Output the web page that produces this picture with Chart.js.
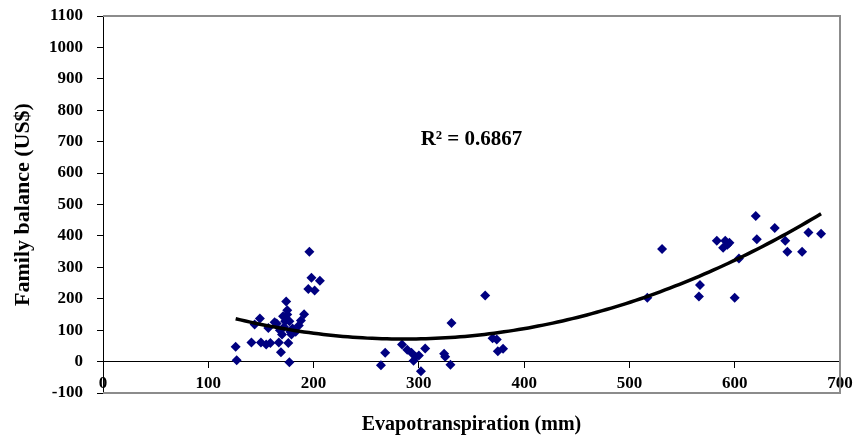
<!DOCTYPE html>
<html>
<head>
<meta charset="utf-8">
<script src="https://cdn.jsdelivr.net/npm/chart.js@4"></script>
<style>
  body { margin: 0; background: #fff; }
</style>
</head>
<body>
<canvas id="myChart" width="855" height="441"></canvas>
<script>
// evapotranspiration (mm) and family balance (US$)
var evapo = [126, 127, 141, 149, 144, 150, 155, 157, 159, 165, 167, 169, 170, 171, 173, 174, 175, 176, 177, 177,
             179, 178, 168, 172, 180, 183, 186, 188, 191, 196, 195, 198, 201, 206, 163, 175,
             264, 268, 284, 289, 293, 295, 300, 302, 306, 324, 325, 330, 331, 363, 370, 374, 375, 380, 297,
             517, 531, 566, 567, 583, 589, 591, 593, 595, 600, 604, 620, 621, 638, 648, 650, 664, 670, 682];
var balance = [47, 4, 61, 137, 118, 61, 54, 107, 59, 121, 61, 30, 86, 144, 128, 191, 163, 59, 128, -2,
               86, 95, 100, 110, 105, 95, 115, 131, 151, 350, 231, 267, 226, 257, 125, 150,
               -12, 28, 54, 38, 28, 3, 19, -31, 42, 25, 15, -10, 123, 210, 74, 70, 33, 41, 15,
               203, 358, 207, 244, 385, 362, 385, 372, 378, 203, 328, 463, 389, 425, 385, 350, 350, 411, 407];
var xTicks = [0, 100, 200, 300, 400, 500, 600, 700];
var yTicks = [-100, 0, 100, 200, 300, 400, 500, 600, 700, 800, 900, 1000, 1100];
var r2Label = 'R² = 0.6867';

var points = evapo.map(function(x, i){ return {x: x, y: balance[i]}; });

// 2nd order polynomial trend (least squares)
function polyFit(xs, ys){
    var s = [0,0,0,0,0], t = [0,0,0];
    for (var i = 0; i < xs.length; i++) {
        var p = 1;
        for (var k = 0; k < 5; k++) { s[k] += p; if (k < 3) t[k] += p * ys[i]; p *= xs[i]; }
    }
    var m = [[s[0], s[1], s[2], t[0]], [s[1], s[2], s[3], t[1]], [s[2], s[3], s[4], t[2]]];
    for (var c = 0; c < 3; c++) {
        for (var r = c + 1; r < 3; r++) {
            var f = m[r][c] / m[c][c];
            for (var q = c; q < 4; q++) m[r][q] -= f * m[c][q];
        }
    }
    var b = [0,0,0];
    for (var r2 = 2; r2 >= 0; r2--) {
        var v = m[r2][3];
        for (var q2 = r2 + 1; q2 < 3; q2++) v -= m[r2][q2] * b[q2];
        b[r2] = v / m[r2][r2];
    }
    return b;
}
var coef = polyFit(evapo, balance);
var xMin = Math.min.apply(null, evapo), xMax = Math.max.apply(null, evapo);
var trend = [];
for (var i = 0; i <= 60; i++) {
    var x = xMin + (xMax - xMin) * i / 60;
    trend.push({x: x, y: coef[0] + coef[1] * x + coef[2] * x * x});
}

var fontFam = '"Liberation Serif", "Times New Roman", serif';

function noPad(s){ s.paddingTop = 0; s.paddingBottom = 0; s.paddingLeft = 0; s.paddingRight = 0; }

var framePlugin = {
    id: 'frame',
    beforeDatasetsDraw: function(chart){
        var a = chart.chartArea, ctx = chart.ctx;
        ctx.save();
        ctx.strokeStyle = '#8c8c8c';
        ctx.lineWidth = 2;
        ctx.beginPath();
        ctx.moveTo(a.left, a.top);
        ctx.lineTo(a.right, a.top);
        ctx.lineTo(a.right, a.bottom);
        ctx.lineTo(a.left, a.bottom);
        ctx.stroke();
        ctx.restore();
    },
    afterDatasetsDraw: function(chart){
        var ctx = chart.ctx;
        ctx.save();
        ctx.font = 'bold 21px ' + fontFam;
        ctx.fillStyle = '#000';
        ctx.textAlign = 'center';
        ctx.textBaseline = 'middle';
        ctx.fillText(r2Label, chart.scales.x.getPixelForValue(350), chart.scales.y.getPixelForValue(707));
        ctx.restore();
    }
};

var ctx = document.getElementById('myChart').getContext('2d');
var myChart = new Chart(ctx, {
    type: 'scatter',
    data: {
        datasets: [{
            label: 'Family balance',
            data: points,
            pointStyle: 'rectRot',
            pointRadius: 5,
            pointBorderWidth: 0,
            backgroundColor: '#000080',
            borderColor: '#000080',
            order: 2
        }, {
            label: 'Trend',
            type: 'line',
            data: trend,
            borderColor: '#000',
            borderWidth: 3.5,
            pointRadius: 0,
            tension: 0.4,
            fill: false,
            order: 1
        }]
    },
    options: {
        responsive: false,
        animation: false,
        layout: { padding: { top: 16, right: 15, left: 0, bottom: 0 } },
        plugins: { legend: { display: false }, tooltip: { enabled: false } },
        scales: {
            x: {
                type: 'linear',
                axis: 'x',
                position: { y: 0 },
                min: 0, max: 700,
                afterBuildTicks: function(s){ s.ticks = xTicks.map(function(v){ return {value: v}; }); },
                afterFit: noPad,
                grid: { drawOnChartArea: false, drawTicks: true, tickLength: 6, color: '#000' },
                border: { color: '#000', width: 1 },
                ticks: { color: '#000', padding: 6, maxRotation: 0, autoSkip: false,
                         font: { family: fontFam, size: 17, weight: 'bold' } }
            },
            x2: {
                type: 'linear',
                axis: 'x',
                position: 'bottom',
                min: 0, max: 700,
                grid: { display: false },
                border: { display: false },
                ticks: { display: false },
                title: { display: true, text: 'Evapotranspiration (mm)', color: '#000',
                         padding: { top: 0, bottom: 4 },
                         font: { family: fontFam, size: 20, weight: 'bold' } },
                afterFit: function(s){ noPad(s); s.height = 48; }
            },
            y: {
                type: 'linear',
                position: 'left',
                min: -100, max: 1100,
                afterBuildTicks: function(s){ s.ticks = yTicks.map(function(v){ return {value: v}; }); },
                grid: { drawOnChartArea: false, drawTicks: true, tickLength: 6, color: '#000' },
                border: { color: '#000', width: 1 },
                ticks: { color: '#000', padding: 14,
                         callback: function(v){ return String(v); },
                         font: { family: fontFam, size: 17, weight: 'bold' } },
                title: { display: true, text: 'Family balance (US$)', color: '#000',
                         padding: { top: 10, bottom: 0 },
                         font: { family: fontFam, size: 22, weight: 'bold' } },
                afterFit: function(s){ noPad(s); s.width = 103; }
            }
        }
    },
    plugins: [framePlugin]
});
</script>
</body>
</html>
